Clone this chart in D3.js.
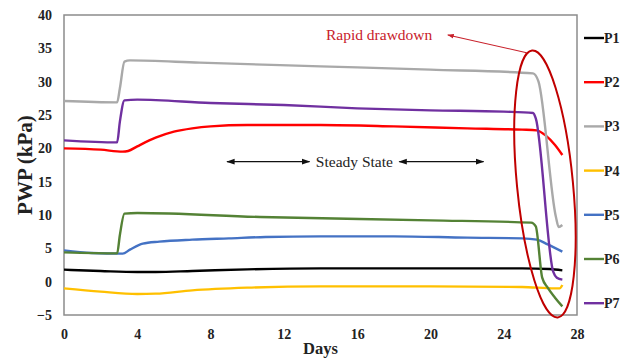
<!DOCTYPE html>
<html>
<head>
<meta charset="utf-8">
<script src="https://cdn.jsdelivr.net/npm/d3@7"></script>
<style>
  html, body { margin: 0; padding: 0; background: #fff; }
  svg { display: block; font-family: "Liberation Serif", "Times New Roman", serif; }
</style>
</head>
<body>
<div id="chart"></div>
<script>
// series as [day, PWP kPa]
const p1 = [[0, 1.8], [2, 1.6], [4, 1.45], [5, 1.45], [7, 1.6], [10, 1.85], [14, 2.0], [20, 2.0], [25, 2.0], [26.5, 1.9], [27.2, 1.7]];
const p2 = [[0, 20.0], [2, 19.8], [3.2, 19.5], [3.5, 19.6], [4, 20.3], [5, 21.6], [6, 22.5], [7, 23.0], [8, 23.3], [10, 23.5], [14, 23.5], [18, 23.3], [22, 23.0], [25, 22.8], [25.8, 22.7], [26.3, 21.9], [26.8, 20.5], [27.2, 19.0]];
const p3 = [[0, 27.1], [2.9, 26.9], [3.05, 29], [3.3, 33.0], [3.6, 33.2], [7.4, 32.85], [14, 32.3], [20, 31.8], [25.6, 31.25], [25.9, 30.0], [26.85, 9.7], [27.0, 8.2], [27.2, 8.5]];
const p4 = [[0, -1.0], [2, -1.5], [4, -1.85], [5, -1.8], [7, -1.3], [10, -0.9], [14, -0.7], [20, -0.7], [25, -0.8], [26.8, -1.0], [27.05, -1.0], [27.2, -0.5]];
const p5 = [[0, 4.7], [1.5, 4.3], [3.2, 4.2], [3.6, 4.8], [4.3, 5.7], [5.2, 6.0], [7, 6.3], [9, 6.5], [11, 6.7], [14, 6.8], [18, 6.8], [22, 6.6], [25, 6.5], [25.8, 6.3], [26.4, 5.6], [27.2, 4.5]];
const p6 = [[0, 4.4], [2.9, 4.25], [3.05, 7], [3.3, 10.2], [4, 10.3], [10.7, 9.7], [20, 9.2], [25.5, 8.85], [25.75, 8.3], [26.1, 0.6], [26.4, -0.9], [26.8, -2.4], [27.2, -3.7]];
const p7 = [[0, 21.2], [2.9, 20.9], [3.05, 24], [3.3, 27.2], [4, 27.3], [8, 26.8], [12, 26.5], [16, 26.0], [20, 25.7], [24, 25.5], [25.6, 25.3], [25.75, 24.5], [26.7, 1.5], [26.9, 0.6], [27.2, 0.3]];

const seriesNames = ['P1', 'P2', 'P3', 'P4', 'P5', 'P6', 'P7'];
const seriesColors = ['#000000', '#ff0000', '#a9a9a9', '#ffc000', '#4472c4', '#548235', '#7030a0'];
const xTicks = [0, 4, 8, 12, 16, 20, 24, 28];
const yTicks = [-5, 0, 5, 10, 15, 20, 25, 30, 35, 40];

const W = 628, H = 358;
const m = { left: 64, right: 51, top: 15, bottom: 43 };

const svg = d3.select('#chart').append('svg')
  .attr('width', W)
  .attr('height', H);

const x = d3.scaleLinear().domain([0, 28]).range([m.left, W - m.right]);
const y = d3.scaleLinear().domain([-5, 40]).range([H - m.bottom, m.top]);

const defs = svg.append('defs');
defs.append('marker')
  .attr('id', 'arr')
  .attr('viewBox', '0 0 10 10')
  .attr('refX', 9).attr('refY', 5)
  .attr('markerWidth', 7).attr('markerHeight', 7)
  .attr('orient', 'auto-start-reverse')
  .append('path').attr('d', 'M0,1.5L10,5L0,8.5Z').attr('fill', '#111');
defs.append('marker')
  .attr('id', 'arrRed')
  .attr('viewBox', '0 0 10 10')
  .attr('refX', 9).attr('refY', 5)
  .attr('markerWidth', 6).attr('markerHeight', 6)
  .attr('orient', 'auto-start-reverse')
  .append('path').attr('d', 'M0,1.5L10,5L0,8.5Z').attr('fill', '#c8202a');

// axes, no tick marks
const xAxis = svg.append('g')
  .attr('transform', `translate(0,${H - m.bottom})`)
  .call(d3.axisBottom(x).tickValues(xTicks).tickSize(0).tickPadding(14));
const yAxis = svg.append('g')
  .attr('transform', `translate(${m.left},0)`)
  .call(d3.axisLeft(y).tickValues(yTicks).tickSize(0).tickPadding(12));
[xAxis, yAxis].forEach(g => {
  g.select('.domain').remove();
  g.selectAll('text')
    .attr('font-family', '"Liberation Serif", serif')
    .attr('font-weight', 'bold')
    .attr('font-size', 14)
    .attr('fill', '#222');
});

// plot frame
svg.append('rect')
  .attr('x', x(0)).attr('y', y(40))
  .attr('width', x(28) - x(0)).attr('height', y(-5) - y(40))
  .attr('fill', 'none')
  .attr('stroke', '#8c8c8c')
  .attr('stroke-width', 1.5);

const line = d3.line()
  .x(d => x(d[0]))
  .y(d => y(d[1]))
  .curve(d3.curveMonotoneX);

const allSeries = [p1, p2, p3, p4, p5, p6, p7];
// draw order so that the drawdown tails overlap like the original
[4, 3, 0, 1, 2, 5, 6].forEach(i => {
  svg.append('path')
    .datum(allSeries[i])
    .attr('fill', 'none')
    .attr('stroke', seriesColors[i])
    .attr('stroke-width', 2.4)
    .attr('stroke-linejoin', 'round')
    .attr('d', line);
});

// steady state annotation
svg.append('line')
  .attr('x1', x(8.9)).attr('x2', x(13.4))
  .attr('y1', y(18)).attr('y2', y(18))
  .attr('stroke', '#111').attr('stroke-width', 1.2)
  .attr('marker-start', 'url(#arr)').attr('marker-end', 'url(#arr)');
svg.append('line')
  .attr('x1', x(18.3)).attr('x2', x(22.9))
  .attr('y1', y(18)).attr('y2', y(18))
  .attr('stroke', '#111').attr('stroke-width', 1.2)
  .attr('marker-start', 'url(#arr)').attr('marker-end', 'url(#arr)');
svg.append('text')
  .attr('x', x(15.85)).attr('y', y(18))
  .attr('dy', '0.35em')
  .attr('text-anchor', 'middle')
  .attr('font-size', 15.5)
  .attr('fill', '#222')
  .text('Steady State');

// rapid drawdown ellipse
const cx = x(26.25), cy = y(14.65);
svg.append('ellipse')
  .attr('cx', cx).attr('cy', cy)
  .attr('rx', 28).attr('ry', 134)
  .attr('transform', `rotate(-5.5,${cx},${cy})`)
  .attr('fill', 'none')
  .attr('stroke', '#c00000')
  .attr('stroke-width', 2);

svg.append('line')
  .attr('x1', x(25.25)).attr('y1', y(34.35))
  .attr('x2', x(20.95)).attr('y2', y(37.0))
  .attr('stroke', '#c8202a').attr('stroke-width', 1.1)
  .attr('marker-end', 'url(#arrRed)');
svg.append('text')
  .attr('x', x(17.2)).attr('y', y(37.1))
  .attr('dy', '0.35em')
  .attr('text-anchor', 'middle')
  .attr('font-size', 15.5)
  .attr('fill', '#c8202a')
  .text('Rapid drawdown');

// axis titles
svg.append('text')
  .attr('x', (x(0) + x(28)) / 2).attr('y', 354)
  .attr('text-anchor', 'middle')
  .attr('font-size', 16.5)
  .attr('font-weight', 'bold')
  .attr('fill', '#222')
  .text('Days');
svg.append('text')
  .attr('transform', `translate(25,${(y(40) + y(-5)) / 2}) rotate(-90)`)
  .attr('dy', '0.35em')
  .attr('text-anchor', 'middle')
  .attr('font-size', 21)
  .attr('font-weight', 'bold')
  .attr('fill', '#222')
  .text('PWP (kPa)');

// legend
const legend = svg.append('g').attr('transform', 'translate(584,38)');
seriesNames.forEach((name, i) => {
  const g = legend.append('g').attr('transform', `translate(0,${i * 44.2})`);
  g.append('line')
    .attr('x1', 0).attr('x2', 20)
    .attr('stroke', seriesColors[i])
    .attr('stroke-width', 2.4);
  g.append('text')
    .attr('x', 20).attr('dy', '0.35em')
    .attr('font-size', 14)
    .attr('font-weight', 'bold')
    .attr('fill', '#222')
    .text(name);
});
</script>
</body>
</html>
